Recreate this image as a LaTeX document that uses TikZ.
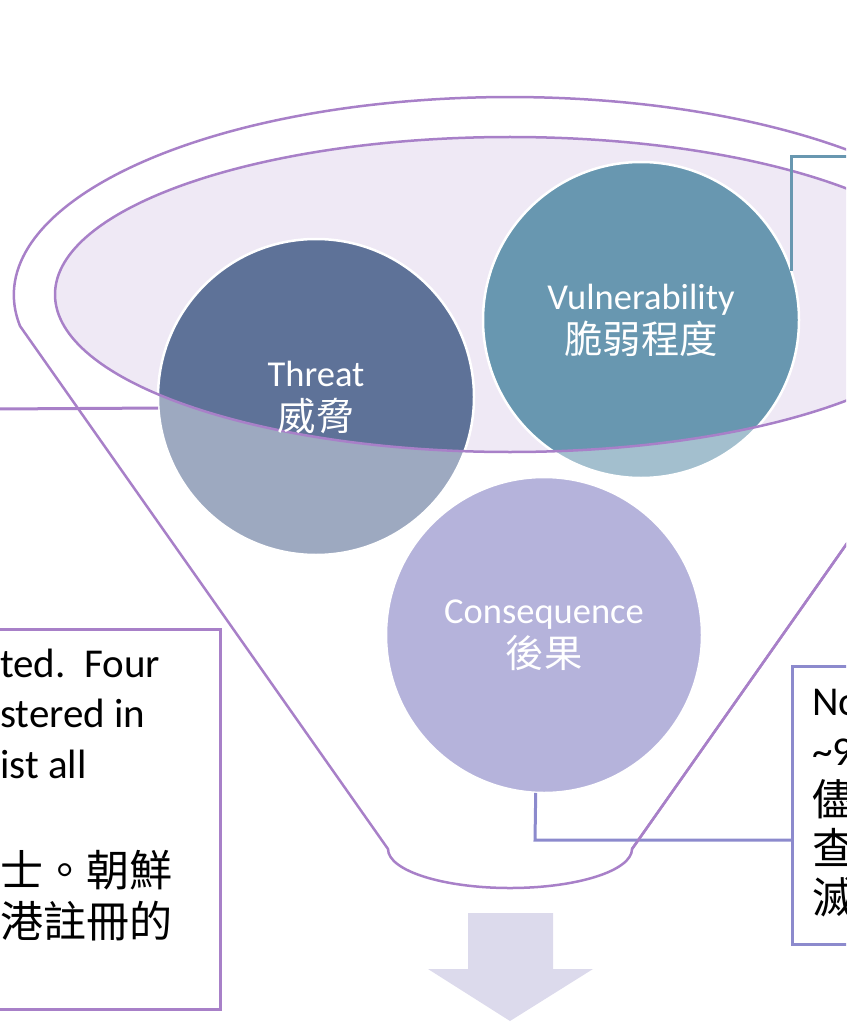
\documentclass[tikz,border=0pt]{standalone}
\usepackage{fontspec}
\setmainfont{Carlito}
\newfontfamily\cjk[Scale=1.05]{Noto Sans CJK TC}
\newcommand{\zh}[1]{{\cjk #1}}

\definecolor{funnelpurple}{RGB}{168,128,200}
\definecolor{rimfill}{RGB}{239,233,245}
\definecolor{threatdark}{RGB}{94,114,152}
\definecolor{threatlight}{RGB}{157,169,192}
\definecolor{vulndark}{RGB}{104,151,176}
\definecolor{vulnlight}{RGB}{163,191,206}
\definecolor{conseqfill}{RGB}{181,179,219}
\definecolor{conseqline}{RGB}{140,138,205}
\definecolor{arrowfill}{RGB}{220,218,236}

\tikzset{
  bubble/.style={circle, minimum size=316pt, inner sep=0pt, fill=#1},
  rim/.style={draw=white, line width=2.5pt},
  bubbletext/.style={text=white, align=center, font=\fontsize{36.5}{44}\selectfont},
  notebox/.style={draw=#1, line width=3pt, fill=white, inner sep=0pt},
  notetext/.style={anchor=base west, inner sep=0pt, font=\fontsize{41}{50}\selectfont},
  link/.style={draw=#1, line width=3pt},
  funnel/.style={draw=funnelpurple, line width=2.5pt}
}

\begin{document}
\begin{tikzpicture}[x=1pt,y=-1pt]
  \clip (0,0) rectangle (846,1024);
  %% mouth of the funnel
  \fill[rimfill] (510,294.5) ellipse[x radius=455, y radius=157.5];
  %% bubbles
  \node[bubble=threatlight] (threat) at (316,397) {};
  \node[bubble=vulnlight] (vuln) at (641,320) {};
  \node[bubble=conseqfill] (conseq) at (544,635) {};
  \begin{scope}
    \clip (510,294.5) ellipse[x radius=455, y radius=157.5];
    \fill[threatdark] (threat.center) circle[radius=158];
    \fill[vulndark] (vuln.center) circle[radius=158];
  \end{scope}
  \foreach \b in {threat,vuln,conseq}{
    \draw[rim] (\b.center) circle[radius=158];
  }
  \draw[funnel] (510,294.5) ellipse[x radius=455, y radius=157.5];
  %% connectors
  \coordinate (tfree) at (-5,409);
  \coordinate (vfree) at (860,157);
  \coordinate (cjoint) at (535,840);
  \draw[link=funnelpurple] (tfree) -- (threat.184);
  \draw[link=vulndark] (vuln.18) |- (vfree);
  % funnel body
  \draw[funnel] (20,326) arc[start angle=171, end angle=369, x radius=496, y radius=198]
    -- (632,849) arc[start angle=0, end angle=180, x radius=122, y radius=39] -- cycle;
  %% labels
  \node[bubbletext] (threatlbl) at (threat.center) {Threat\\\zh{威脅}};
  \node[bubbletext] (vulnlbl) at (vuln.center) {Vulnerability\\\zh{脆弱程度}};
  \node[bubbletext] (conseqlbl) at (conseq.center) {Consequence\\\zh{後果}};
  %% note boxes
  \node[notebox=funnelpurple, anchor=north east, minimum width=240pt, minimum height=380pt] (lbox) at (222,628) {};
  \node[notebox=conseqline, anchor=north west, minimum width=120pt, minimum height=278pt] (rbox) at (791,665) {};
  \draw[link=conseqline] (conseq.267) -- (cjoint) -- (cjoint -| rbox.west);
  \draw[funnel] (632,849) -- (1000,326);
  \foreach \y/\txt [count=\i] in {677/{ted.\ \ Four}, 727/{stered in}, 778/{ist all}, 886/{\zh{士。朝鮮}}, 937/{\zh{港註冊的}}}{
    \node[notetext] (lnote\i) at (0,\y) {\txt};
  }
  \foreach \y/\txt [count=\i] in {715/No, 765/{\textasciitilde 9}, 815/{\zh{儘}}, 864/{\zh{查}}, 913/{\zh{滅}}}{
    \node[notetext] (rnote\i) at (812,\y) {\txt};
  }
  %% arrow below
  \fill[arrowfill] (468,913) -- (553,913) -- (553,969) -- (593,969) -- (510,1021) -- (428,969) -- (468,969) -- cycle;
\end{tikzpicture}
\end{document}
